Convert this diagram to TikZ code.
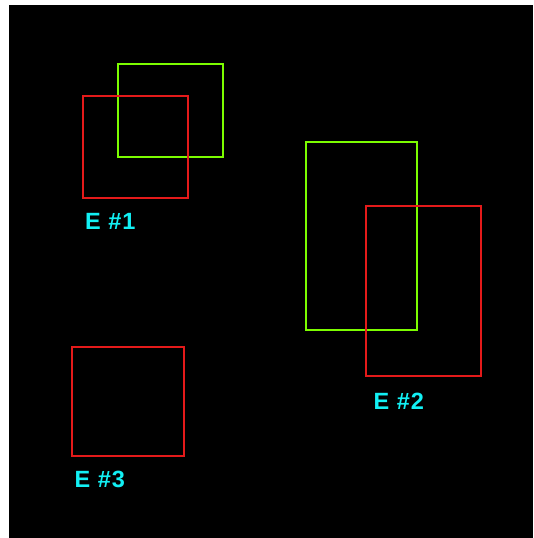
\documentclass[tikz,border=0pt]{standalone}
\usepackage{fontspec}
\setsansfont{Liberation Sans}
\usetikzlibrary{positioning}
\definecolor{boxred}{HTML}{E41A1A}
\definecolor{boxgreen}{HTML}{7CFC00}
\definecolor{labcyan}{HTML}{12F0F4}
\tikzset{
  redbox/.style={draw=boxred, line width=2.2pt},
  greenbox/.style={draw=boxgreen, line width=2.2pt},
  elabel/.style={text=labcyan, anchor=base west, inner sep=0pt,
    font=\sffamily\bfseries\fontsize{23.5}{27}\selectfont\addfontfeatures{LetterSpace=4}}
}
\begin{document}
\begin{tikzpicture}[x=1pt, y=-1pt]
\def\W{533}
\def\H{538}
\useasboundingbox (0,0) rectangle (\W,\H);
\fill[white] (0,0) rectangle (\W,\H);
\fill[black] (9,5) rectangle (\W,\H);
% first pair
\coordinate (Gtl) at (118,64);
\coordinate (Rtl) at (83,96);
\draw[greenbox] (Gtl) rectangle ++(105,93);
\draw[redbox] (Rtl) rectangle ++(105,102);
\node[elabel] (e1) at (85,229) {E \#1};
% second pair
\coordinate (Htl) at (306,142);
\coordinate (Stl) at (366,206);
\draw[greenbox] (Htl) rectangle ++(111,188);
\draw[redbox] (Stl) rectangle ++(115,170);
\node[elabel] (e2) at (373.5,409) {E \#2};
% single one
\coordinate (Ttl) at (72,347);
\draw[redbox] (Ttl) rectangle ++(112,109);
\node[elabel] (e3) at (74.5,487.5) {E \#3};
\end{tikzpicture}
\end{document}
